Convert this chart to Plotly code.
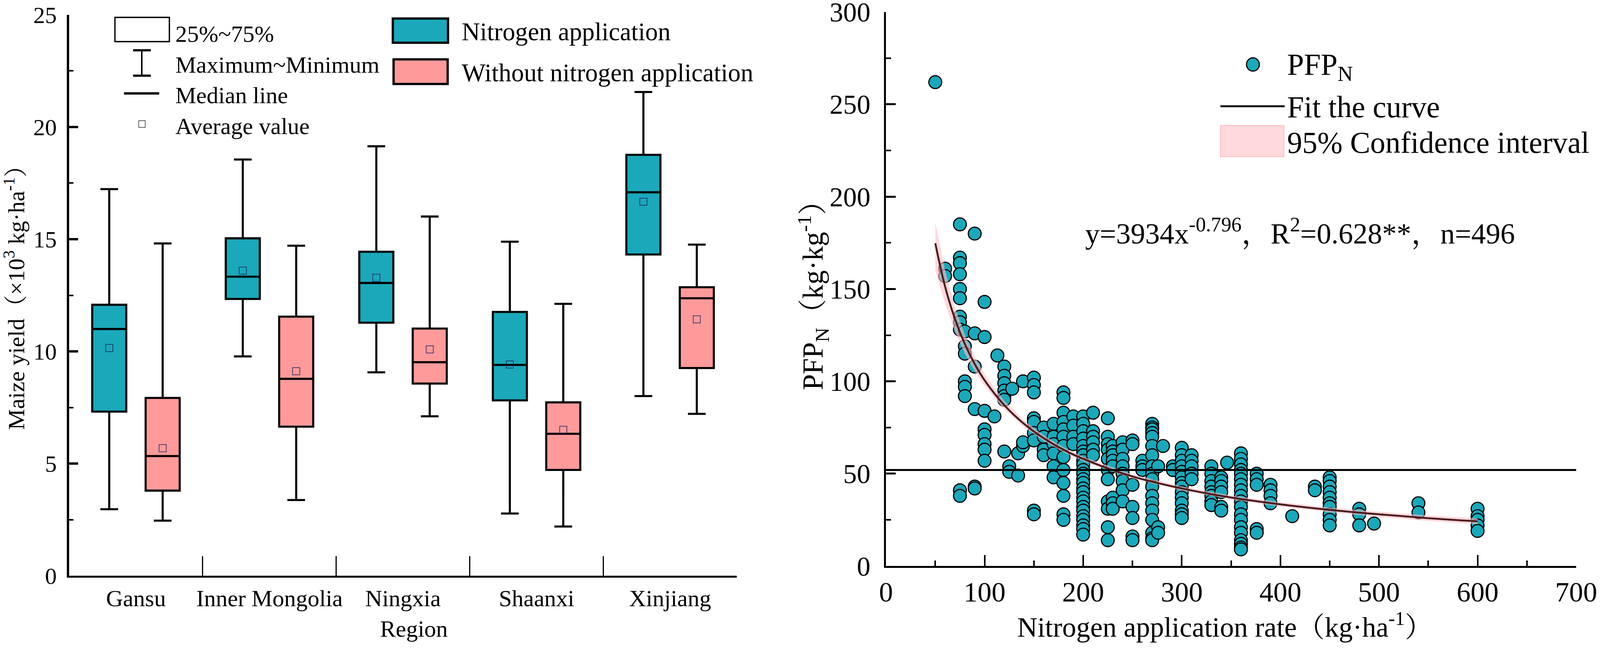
import numpy as np
import plotly.graph_objects as go

# ---- left panel: maize yield box stats (x10^3 kg/ha) ----
regions = ["Gansu", "Inner Mongolia", "Ningxia", "Shaanxi", "Xinjiang"]

n_max = [17.23, 18.55, 19.14, 14.89, 21.56]
n_q3 = [12.08, 15.04, 14.44, 11.76, 18.76]
n_med = [11.00, 13.33, 13.05, 9.40, 17.09]
n_mean = [10.15, 13.60, 13.28, 9.42, 16.67]
n_q1 = [7.32, 12.34, 11.28, 7.82, 14.32]
n_min = [2.97, 9.78, 9.07, 2.78, 8.01]

c_max = [14.81, 14.71, 16.01, 12.12, 14.76]
c_q3 = [7.93, 11.55, 11.02, 7.73, 12.86]
c_med = [5.34, 8.78, 9.52, 6.33, 12.37]
c_mean = [5.69, 9.12, 10.09, 6.51, 11.43]
c_q1 = [3.80, 6.65, 8.57, 4.72, 9.26]
c_min = [2.46, 3.38, 7.11, 2.20, 7.22]

# ---- right panel: PFPN vs nitrogen rate ----
rate_groups = [50, 60, 75, 80, 90, 100, 110, 113, 120, 125, 128, 134, 139, 150, 160,
               170, 180, 190, 200, 210, 225, 230, 240, 250, 260, 270, 276, 281, 291,
               300, 310, 330, 340, 346, 360, 376, 390, 412, 435, 450, 480, 495, 540, 600]
pfp_groups = [
    [262], [161, 157], [185, 167, 164, 158, 150, 145, 135, 132, 128, 41, 38],
    [127, 119, 115, 100, 97, 92], [180, 126, 108, 85, 43, 42],
    [143, 124, 84, 74, 71, 66, 63, 57], [81], [114],
    [108, 103, 99, 95, 92, 90, 62], [54, 51], [96], [61, 49], [100, 65, 67],
    [102, 98, 94, 80, 78, 72, 68, 30, 28], [75, 70, 63, 60],
    [77, 70, 66, 61, 54, 48], [94, 91, 83, 78, 74, 70, 65, 59, 52, 45, 38, 28, 25],
    [81, 76, 70, 66],
    [81, 77, 73, 69, 65, 62, 60, 57, 55, 52, 50, 47, 45, 42, 40, 37, 35, 32, 30, 27, 25, 22, 20, 17],
    [83, 73, 70, 67, 63, 60], [80, 70, 66, 63, 58, 52, 47, 35, 31, 21, 14],
    [65, 62, 60, 57, 54, 37, 34, 31], [67, 63, 58, 54, 50, 46, 41, 35],
    [68, 66, 44, 32, 26, 16, 14], [57, 54, 52],
    [77, 75, 74, 72, 70, 65, 60, 54, 50, 47, 43, 38, 34, 30, 25, 18, 15, 14],
    [54, 21, 18], [65], [54, 52],
    [64, 60, 57, 54, 51, 48, 45, 43, 40, 37, 34, 30, 28, 26], [60, 57, 54, 50, 47],
    [54, 50, 46, 43, 40, 38, 35, 33], [48, 46, 43, 40, 32, 30], [56],
    [61, 58, 55, 52, 50, 47, 44, 41, 38, 35, 32, 28, 25, 21, 18, 14, 12, 10, 9],
    [50, 47, 44, 20, 18], [44, 41, 38, 34], [27], [43, 41],
    [48, 46, 43, 40, 37, 34, 32, 28, 25, 22], [31, 28, 22], [23], [34, 29],
    [31, 27, 25, 22, 19],
]
pfp_rate = [r for r, g in zip(rate_groups, pfp_groups) for _ in g]
pfp_value = [v for g in pfp_groups for v in g]

# fitted curve y=3934x^-0.796 and its 95% band
fit_x = [50, 60, 70, 80, 90, 100, 120, 140, 160, 180, 200, 250, 300, 350, 400, 450, 500, 550, 600]
fit_y = [174.8, 151.2, 133.7, 120.2, 109.4, 100.6, 87.1, 77.0, 69.2, 63.0, 58.0, 48.5,
         42.0, 37.1, 33.4, 30.4, 28.0, 25.9, 24.2]
ci_low = [160, 142, 127, 115, 105.5, 97.5, 84.8, 75.2, 67.7, 61.7, 56.8, 47.4, 40.9,
          36.0, 32.2, 29.1, 26.6, 24.4, 22.6]
ci_high = [186, 160, 140, 125, 113.5, 103.8, 89.4, 78.8, 70.7, 64.3, 59.2, 49.6, 43.1,
           38.2, 34.6, 31.7, 29.4, 27.4, 25.8]
ref_level = 52

TEAL = "#1BA8BA"
PINK = "#FF9A9A"
MEAN_C = "#202060"
FONT = "Liberation Serif, Noto Serif CJK SC, Noto Sans CJK SC, serif"
W, H = 4232, 1704          # reference picture size
WC, HC = 4096, 1649        # page size the figure is drawn at
K = WC / W                 # px sizes scaled to page


def px(x):
    return x / W


def py(y):
    return 1 - y / H


def s(v):
    return v * K


idx = np.arange(len(regions))
fig = go.Figure()

for off, color, q1, med, q3, lo, hi, mean in [
    (-0.2, TEAL, n_q1, n_med, n_q3, n_min, n_max, n_mean),
    (0.2, PINK, c_q1, c_med, c_q3, c_min, c_max, c_mean),
]:
    fig.add_trace(go.Box(
        x=idx + off, q1=q1, median=med, q3=q3, lowerfence=lo, upperfence=hi,
        width=0.255, whiskerwidth=0.52, fillcolor=color,
        line=dict(color="black", width=s(5.5)), boxpoints=False,
        xaxis="x", yaxis="y", showlegend=False,
    ))
    fig.add_trace(go.Scatter(
        x=idx + off, y=mean, mode="markers",
        marker=dict(symbol="square-open", size=s(19), color=MEAN_C, line=dict(width=1.5)),
        xaxis="x", yaxis="y", showlegend=False,
    ))

fig.add_trace(go.Scatter(
    x=pfp_rate, y=pfp_value, mode="markers",
    marker=dict(size=s(34), color=TEAL, line=dict(color="black", width=s(3))),
    xaxis="x2", yaxis="y2", showlegend=False,
))
fig.add_trace(go.Scatter(x=fit_x, y=ci_low, mode="lines", line=dict(width=0, color="#FFC9CE"),
                         xaxis="x2", yaxis="y2", showlegend=False))
fig.add_trace(go.Scatter(x=fit_x, y=ci_high, mode="lines", line=dict(width=0, color="#FFC9CE"),
                         fill="tonexty", fillcolor="rgba(255,190,198,0.6)",
                         xaxis="x2", yaxis="y2", showlegend=False))
fig.add_trace(go.Scatter(x=fit_x, y=fit_y, mode="lines", line=dict(width=s(5), color="#4A1C1C"),
                         line_shape="spline", xaxis="x2", yaxis="y2", showlegend=False))

axis_common = dict(showline=True, linecolor="black", showgrid=False, zeroline=False,
                   ticks="inside", tickcolor="black", color="black", automargin=False,
                   ticklabeloverflow="allow")

fig.update_layout(
    template="none",
    width=WC, height=HC, margin=dict(l=0, r=0, t=0, b=0, pad=0, autoexpand=False),
    paper_bgcolor="white", plot_bgcolor="white",
    font=dict(family=FONT, color="black", size=s(60)),
    xaxis=dict(axis_common, domain=[px(183), px(1949)], range=[-0.5, 4.5],
               tickmode="array", tickvals=idx, ticktext=regions, ticks="",
               linewidth=s(5), tickfont=dict(size=s(62)), ticklabelstandoff=1,
               minor=dict(tickmode="array", tickvals=list(idx[:-1] + 0.5), ticks="inside",
                          ticklen=s(52), tickwidth=s(3), tickcolor="black")),
    yaxis=dict(axis_common, domain=[py(1522.6), py(39)], range=[0, 25], dtick=5,
               linewidth=s(6), ticklen=s(24), tickwidth=s(6), tickfont=dict(size=s(62)),
               ticklabelstandoff=round(s(14)),
               minor=dict(dtick=2.5, ticks="inside", ticklen=s(11), tickwidth=s(4), tickcolor="black")),
    xaxis2=dict(axis_common, domain=[px(2343.4), px(4169)], range=[0, 700], dtick=100,
                anchor="y2", linewidth=s(5), ticklen=s(29), tickwidth=s(4), tickfont=dict(size=s(74)),
                ticklabelstandoff=0,
                minor=dict(dtick=50, ticks="inside", ticklen=s(15), tickwidth=s(4), tickcolor="black")),
    yaxis2=dict(axis_common, domain=[py(1496.5), py(31.6)], range=[0, 300], dtick=50,
                anchor="x2", linewidth=s(5), ticklen=s(26), tickwidth=s(5), tickfont=dict(size=s(72)),
                ticklabelstandoff=round(s(22)),
                minor=dict(dtick=25, ticks="inside", ticklen=s(13), tickwidth=s(4), tickcolor="black")),
)

shapes = [
    # reference line on right panel
    dict(type="line", xref="x2 domain", yref="y2", x0=0, x1=1, y0=ref_level, y1=ref_level,
         line=dict(color="black", width=s(5))),
    # left legend symbols
    dict(type="rect", xref="paper", yref="paper", x0=px(304), x1=px(448), y0=py(110), y1=py(46),
         line=dict(color="black", width=s(3.5)), fillcolor="white"),
    dict(type="line", xref="paper", yref="paper", x0=px(375), x1=px(375), y0=py(200), y1=py(133),
         line=dict(color="black", width=s(4))),
    dict(type="line", xref="paper", yref="paper", x0=px(352), x1=px(399), y0=py(133), y1=py(133),
         line=dict(color="black", width=s(6))),
    dict(type="line", xref="paper", yref="paper", x0=px(352), x1=px(399), y0=py(200), y1=py(200),
         line=dict(color="black", width=s(6))),
    dict(type="line", xref="paper", yref="paper", x0=px(328), x1=px(421), y0=py(247), y1=py(247),
         line=dict(color="black", width=s(6))),
    dict(type="rect", xref="paper", yref="paper", x0=px(367), x1=px(384), y0=py(337), y1=py(319),
         line=dict(color="#333333", width=1.5)),
    dict(type="rect", xref="paper", yref="paper", x0=px(1039), x1=px(1185), y0=py(113), y1=py(49),
         line=dict(color="black", width=s(6)), fillcolor=TEAL),
    dict(type="rect", xref="paper", yref="paper", x0=px(1041), x1=px(1184), y0=py(222), y1=py(157),
         line=dict(color="black", width=s(6)), fillcolor=PINK),
    # right legend symbols
    dict(type="circle", xref="paper", yref="paper", x0=px(3297), x1=px(3331), y0=py(188), y1=py(153),
         line=dict(color="black", width=s(3)), fillcolor=TEAL),
    dict(type="line", xref="paper", yref="paper", x0=px(3228), x1=px(3398), y0=py(281), y1=py(281),
         line=dict(color="black", width=s(5))),
    dict(type="rect", xref="paper", yref="paper", x0=px(3228), x1=px(3396), y0=py(414), y1=py(332),
         line=dict(color="#FFB8BE", width=2), fillcolor="#FFD9DC"),
]
fig.update_layout(shapes=shapes)


def label(text, x, y, size, **kw):
    fig.add_annotation(text=text, xref="paper", yref="paper", x=px(x), y=py(y),
                       showarrow=False, font=dict(size=s(size), family=FONT, color="black"),
                       xanchor=kw.pop("xanchor", "left"), yanchor="middle", **kw)


label("25%~75%", 462, 90, 62)
label("Maximum~Minimum", 462, 172, 62)
label("Median line", 462, 252, 62)
label("Average value", 462, 334, 62)
label("Nitrogen application", 1219, 84, 67)
label("Without nitrogen application", 1219, 192, 67)

label("PFP<sub>N</sub>", 3402, 176, 80)
label("Fit the curve", 3402, 283, 80)
label("95% Confidence interval", 3402, 377, 80)
label("y=3934x<sup>-0.796</sup>，R<sup>2</sup>=0.628**，n=496", 2868, 612, 77)

label("Region", 1095, 1663, 62, xanchor="center")
label("Nitrogen application rate（kg·ha<sup>-1</sup>）", 3240, 1652, 74, xanchor="center")
label("Maize yield（×10<sup>3</sup> kg·ha<sup>-1</sup>）", 38, 772, 62, xanchor="center", textangle=-90)
label("PFP<sub>N</sub>（kg·kg<sup>-1</sup>）", 2150, 762, 76, xanchor="center", textangle=-90)

fig.write_html("out.html", config={"displayModeBar": False},
               post_script="document.body.style.margin='0px';")
